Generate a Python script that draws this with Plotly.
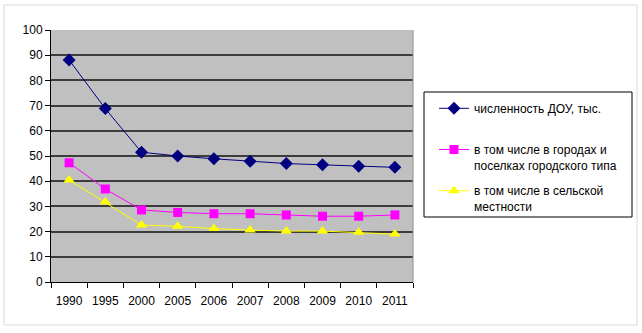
import plotly.graph_objects as go

years = ["1990", "1995", "2000", "2005", "2006", "2007", "2008", "2009", "2010", "2011"]
total = [88.1, 68.8, 51.5, 50.0, 48.9, 47.9, 47.0, 46.5, 45.9, 45.5]
urban = [47.3, 36.9, 28.6, 27.6, 27.1, 27.1, 26.6, 26.1, 26.1, 26.6]
rural = [40.5, 31.7, 22.6, 22.1, 21.2, 20.6, 20.2, 20.2, 19.7, 19.0]

names = [
    "численность ДОУ, тыс.<br> ",
    "в том числе в городах и<br>поселках городского типа",
    "в том числе в сельской<br>местности",
]

FONT = "Liberation Sans, Arial, sans-serif"

fig = go.Figure()
fig.add_trace(go.Scatter(
    x=years, y=total, name=names[0], mode="lines+markers", legendgroup="a",
    line=dict(color="#000080", width=1),
    marker=dict(symbol="diamond", size=10, color="#000080"),
))
fig.add_trace(go.Scatter(
    x=years, y=urban, name=names[1], mode="lines+markers", legendgroup="b",
    line=dict(color="#FF00FF", width=1),
    marker=dict(symbol="square", size=9, color="#FF00FF"),
))
fig.add_trace(go.Scatter(
    x=years, y=rural, name=names[2], mode="lines+markers", legendgroup="c",
    line=dict(color="#FFFF00", width=1),
    marker=dict(symbol="triangle-up", size=10, color="#FFFF00"),
))

L, R, T, B = 51, 413, 30, 282
W, H = 642, 333
pw, ph = R - L, B - T


def px_x(v):
    return (v - L) / pw


def px_y(v):
    return (B - v) / ph


fig.update_layout(
    width=W, height=H,
    margin=dict(l=L, r=W - R, t=T, b=H - B, pad=0),
    paper_bgcolor="white",
    plot_bgcolor="#C0C0C0",
    font=dict(family=FONT, size=12, color="black"),
    showlegend=True,
    legend=dict(
        x=px_x(434), y=px_y(94), xanchor="left", yanchor="top",
        bgcolor="rgba(0,0,0,0)", borderwidth=0, valign="top",
        font=dict(family=FONT, size=12, color="black"),
        tracegroupgap=7, itemwidth=30,
    ),
    xaxis=dict(
        type="category", range=[-0.5, 9.5], tickson="boundaries",
        ticks="outside", ticklen=5, tickcolor="#000000",
        ticklabelstandoff=8,
        showgrid=False, showline=True, linecolor="#000000", linewidth=1,
        tickfont=dict(size=12), fixedrange=True,
    ),
    yaxis=dict(
        range=[0, 100], dtick=10, ticks="outside", ticklen=5,
        tickcolor="#000000", showgrid=True, gridcolor="#3c3c3c", gridwidth=2,
        showline=True, linecolor="#000000", linewidth=1,
        zeroline=False, tickfont=dict(size=12), fixedrange=True,
    ),
    shapes=[
        # outer chart frame
        dict(type="rect", xref="paper", yref="paper",
             x0=px_x(4), x1=px_x(637), y0=px_y(325), y1=px_y(5),
             line=dict(color="#d9d9d9", width=1), fillcolor="rgba(0,0,0,0)",
             layer="below"),
        # legend frame
        dict(type="rect", xref="paper", yref="paper",
             x0=px_x(424), x1=px_x(632), y0=px_y(217), y1=px_y(92),
             line=dict(color="black", width=1), fillcolor="white",
             layer="below"),
        # right edge of the plot area
        dict(type="line", xref="paper", yref="paper",
             x0=1, x1=1, y0=0, y1=1,
             line=dict(color="#8c8c8c", width=1)),
    ],
)

fig.write_html("out.html")
